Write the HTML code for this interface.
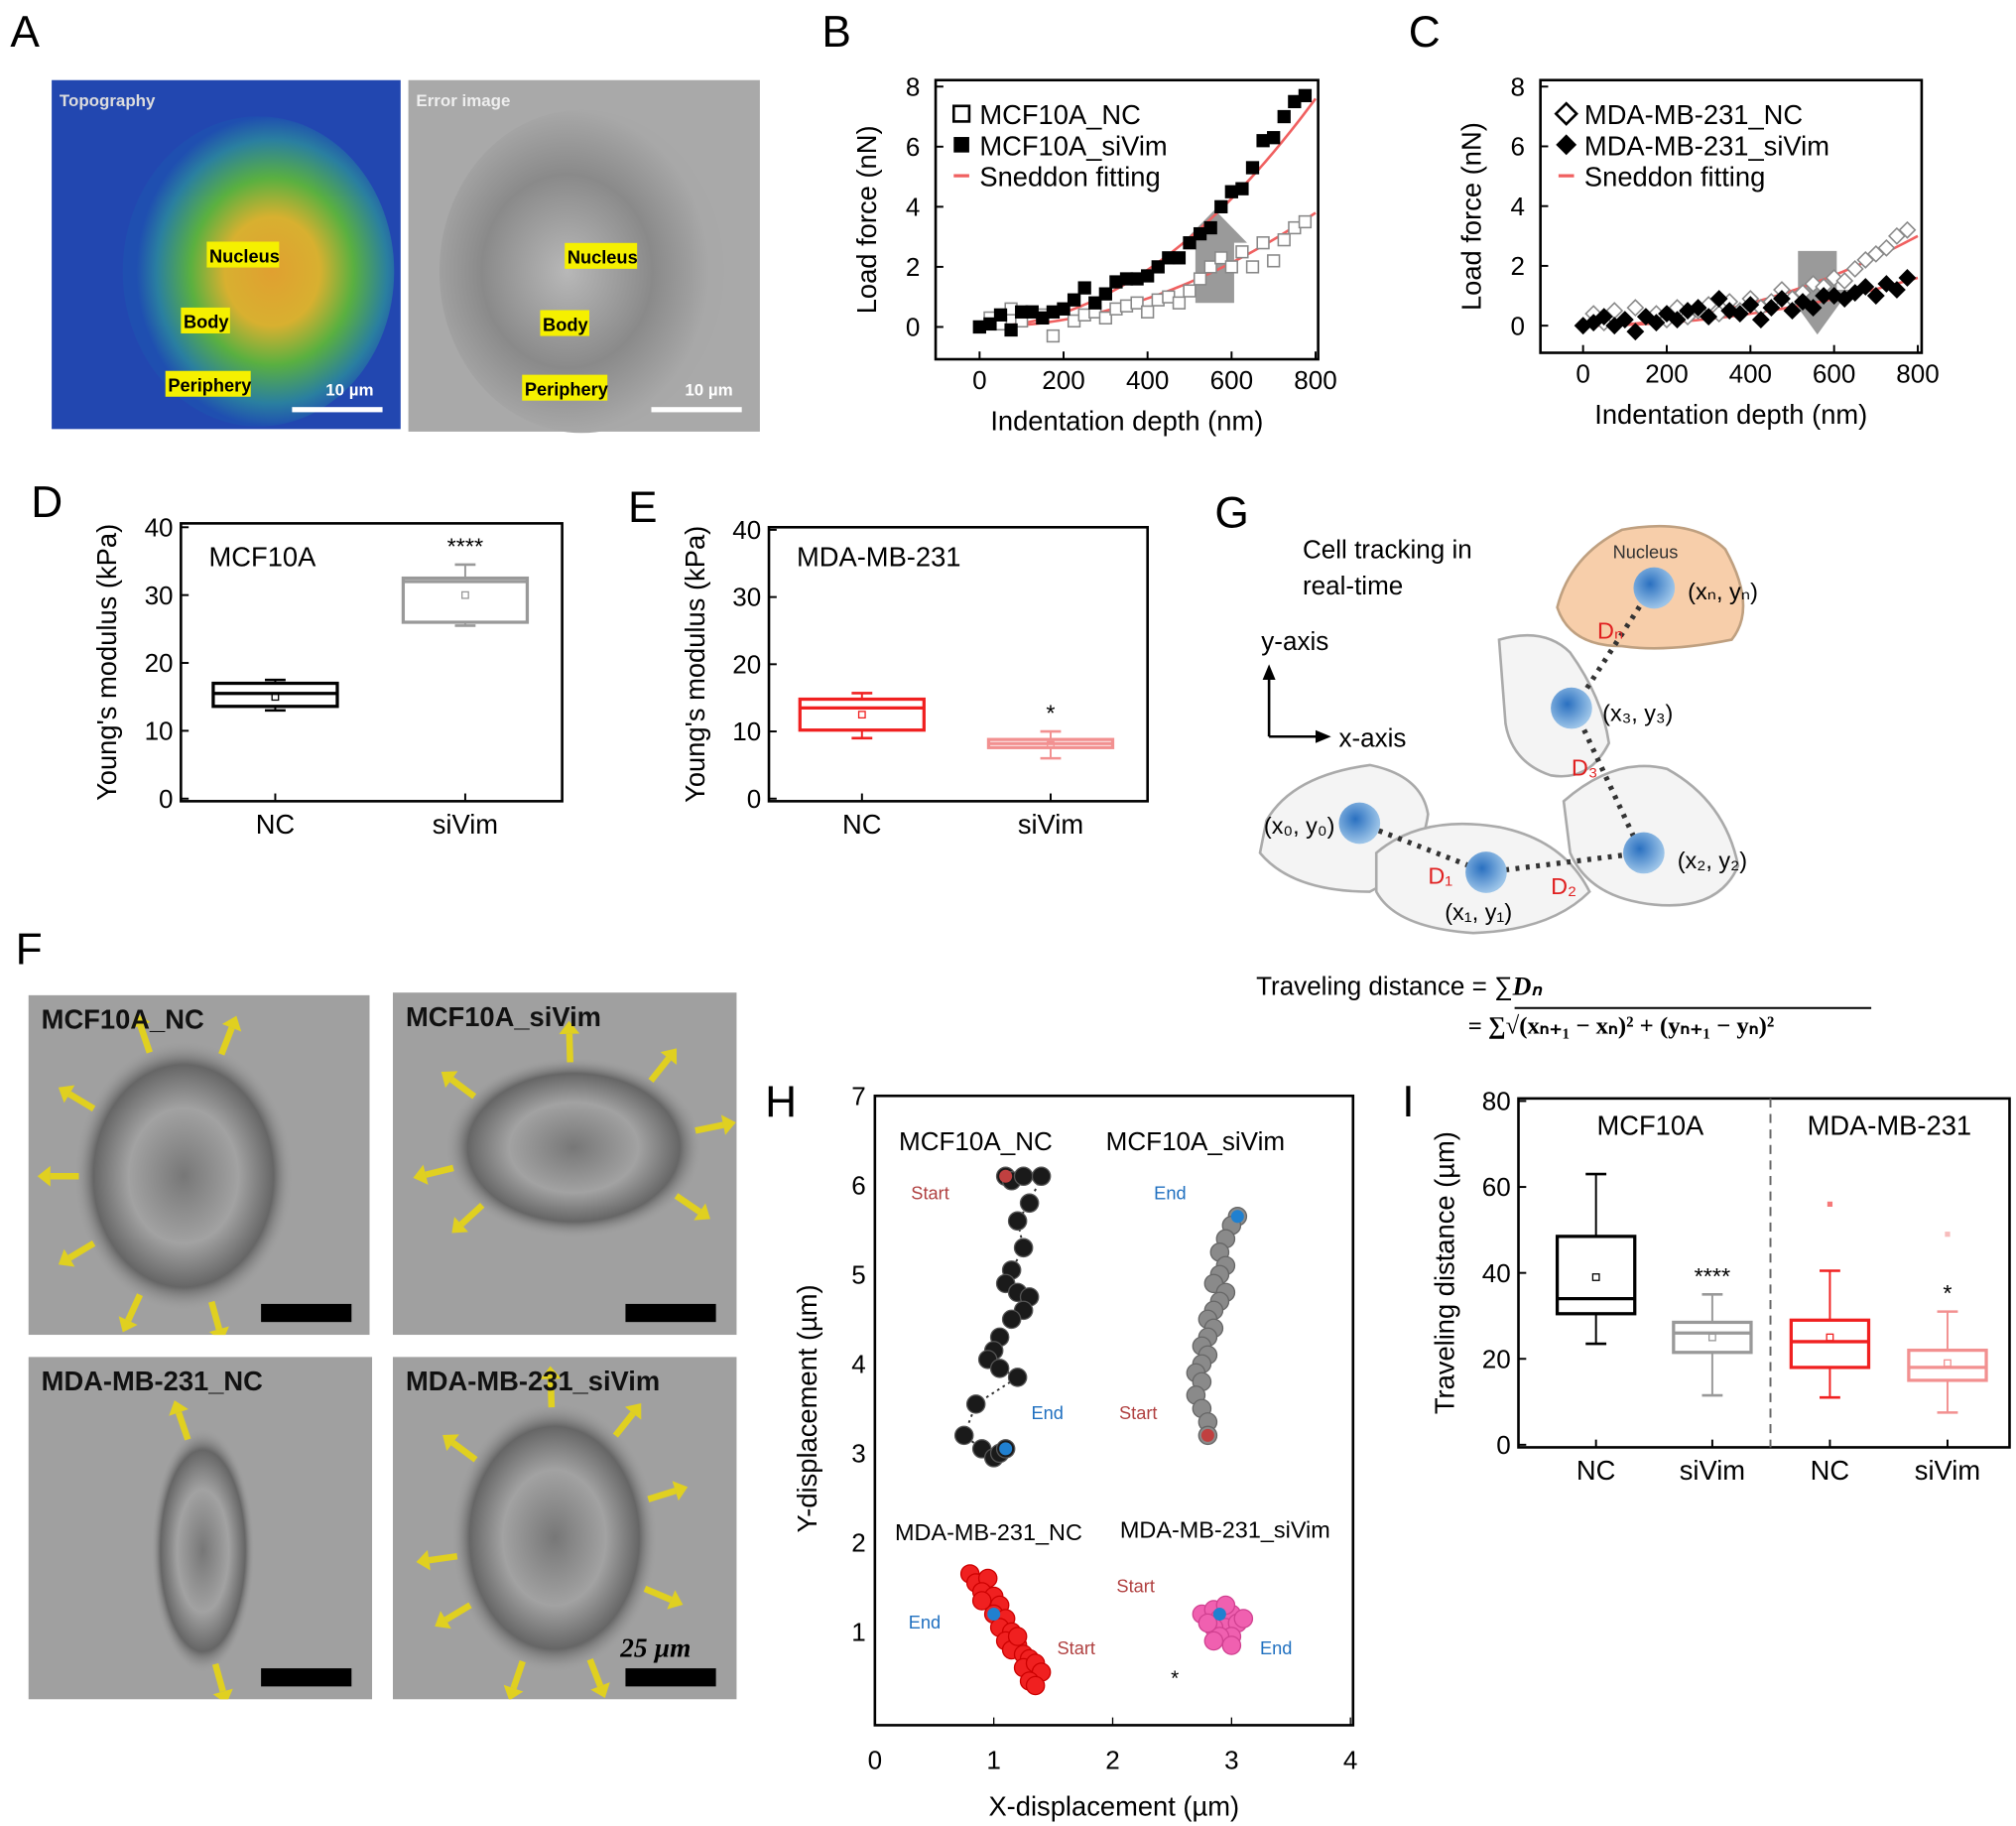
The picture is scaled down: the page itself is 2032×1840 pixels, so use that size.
<!DOCTYPE html>
<html><head><meta charset="utf-8"><style>
html,body{margin:0;padding:0;background:#fff;}
svg{display:block;font-family:"Liberation Sans",sans-serif;}
</style></head><body>
<svg id="fig" width="2032" height="1840" viewBox="0 0 1560 1413" preserveAspectRatio="none" xmlns="http://www.w3.org/2000/svg">
<defs>
<radialGradient id="topo" cx="0.55" cy="0.5" r="0.5">
<stop offset="0" stop-color="#e0a030"/><stop offset="0.35" stop-color="#d8b030"/><stop offset="0.6" stop-color="#5ab040"/><stop offset="0.85" stop-color="#2a7fa0"/><stop offset="1" stop-color="#1f4fb0"/></radialGradient>
<radialGradient id="err" cx="0.45" cy="0.5" r="0.5"><stop offset="0" stop-color="#b8b8b8"/><stop offset="0.6" stop-color="#8a8a8a"/><stop offset="1" stop-color="#a8a8a8"/></radialGradient>
<radialGradient id="cellg" cx="0.5" cy="0.5" r="0.5"><stop offset="0" stop-color="#777"/><stop offset="0.5" stop-color="#a2a2a2"/><stop offset="0.82" stop-color="#666"/><stop offset="1" stop-color="#a0a0a0" stop-opacity="0"/></radialGradient>
<radialGradient id="nuc" cx="0.4" cy="0.4" r="0.6"><stop offset="0" stop-color="#2a70c0"/><stop offset="1" stop-color="#9cc4e8"/></radialGradient>
<clipPath id="cf0"><rect x="22" y="770" width="264" height="263"/></clipPath>
<clipPath id="cf1"><rect x="304" y="768" width="266" height="265"/></clipPath>
<clipPath id="cf2"><rect x="22" y="1050" width="266" height="265"/></clipPath>
<clipPath id="cf3"><rect x="304" y="1050" width="266" height="265"/></clipPath>
</defs>
<g font-size="34" fill="#000">
<text x="8" y="36">A</text>
<text x="636" y="36">B</text>
<text x="1090" y="36">C</text>
<text x="24" y="400">D</text>
<text x="486" y="404">E</text>
<text x="940" y="408">G</text>
<text x="12" y="746">F</text>
<text x="592" y="864">H</text>
<text x="1085" y="864">I</text>
</g>
<g>
<rect x="40" y="62" width="270" height="270" fill="#2247b0"/>
<ellipse cx="200" cy="210" rx="105" ry="120" fill="url(#topo)"/>
<text x="46" y="82" font-size="13" fill="#ddd" font-weight="bold">Topography</text>
<rect x="160" y="187" width="56" height="20" fill="#f5f000"/><text x="162" y="203" font-size="14" font-weight="bold">Nucleus</text>
<rect x="140" y="238" width="38" height="20" fill="#f5f000"/><text x="142" y="254" font-size="14" font-weight="bold">Body</text>
<rect x="128" y="287" width="66" height="20" fill="#f5f000"/><text x="130" y="303" font-size="14" font-weight="bold">Periphery</text>
<text x="252" y="306" font-size="13" fill="#fff" font-weight="bold">10 µm</text><rect x="226" y="315" width="70" height="4" fill="#fff"/>
</g>
<g>
<rect x="316" y="62" width="272" height="272" fill="#a9a9a9"/>
<ellipse cx="450" cy="210" rx="110" ry="125" fill="url(#err)"/>
<text x="322" y="82" font-size="13" fill="#eee" font-weight="bold">Error image</text>
<rect x="437" y="188" width="56" height="20" fill="#f5f000"/><text x="439" y="204" font-size="14" font-weight="bold">Nucleus</text>
<rect x="418" y="240" width="38" height="20" fill="#f5f000"/><text x="420" y="256" font-size="14" font-weight="bold">Body</text>
<rect x="404" y="290" width="66" height="20" fill="#f5f000"/><text x="406" y="306" font-size="14" font-weight="bold">Periphery</text>
<text x="530" y="306" font-size="13" fill="#fff" font-weight="bold">10 µm</text><rect x="504" y="315" width="70" height="4" fill="#fff"/>
</g>
<g id="fimgs"></g>
<g>
<text x="1008" y="432" font-size="20">Cell tracking in</text>
<text x="1008" y="460" font-size="20">real-time</text>
<line x1="982" y1="570" x2="982" y2="524" stroke="#000" stroke-width="2"/><polygon points="977,526 987,526 982,514" fill="#000"/>
<line x1="982" y1="570" x2="1020" y2="570" stroke="#000" stroke-width="2"/><polygon points="1018,565 1018,575 1030,570" fill="#000"/>
<text x="976" y="503" font-size="20">y-axis</text><text x="1036" y="578" font-size="20">x-axis</text>
<path d="M980,635 Q1000,600 1060,592 Q1100,600 1105,630 Q1100,670 1060,690 Q1000,690 975,660Z" fill="#f4f4f4" stroke="#aaa" stroke-width="2"/>
<path d="M1065,660 Q1100,630 1160,640 Q1210,650 1230,690 Q1200,720 1140,722 Q1080,718 1065,690Z" fill="#f4f4f4" stroke="#aaa" stroke-width="2"/>
<path d="M1210,620 Q1250,585 1290,595 Q1335,620 1345,670 Q1330,705 1280,700 Q1230,695 1215,660Z" fill="#f4f4f4" stroke="#aaa" stroke-width="2"/>
<path d="M1160,495 Q1195,485 1215,505 Q1240,540 1245,575 Q1230,605 1200,600 Q1170,590 1165,560Z" fill="#f4f4f4" stroke="#aaa" stroke-width="2"/>
<path d="M1205,470 Q1215,430 1255,410 Q1310,400 1335,425 Q1360,470 1340,495 Q1290,505 1255,500 Q1215,500 1205,470Z" fill="#f7ceaa" stroke="#bfa080" stroke-width="2"/>
<text x="1248" y="432" font-size="14" fill="#333">Nucleus</text>
<polyline points="1052,637 1150,675 1270,660 1218,548 1278,455" fill="none" stroke="#333" stroke-width="4" stroke-dasharray="3,5"/>
<circle cx="1052" cy="637" r="16" fill="url(#nuc)"/><circle cx="1150" cy="675" r="16" fill="url(#nuc)"/><circle cx="1272" cy="660" r="16" fill="url(#nuc)"/><circle cx="1216" cy="548" r="16" fill="url(#nuc)"/><circle cx="1280" cy="455" r="16" fill="url(#nuc)"/>
<g font-size="18"><text x="978" y="645">(x₀, y₀)</text><text x="1118" y="712">(x₁, y₁)</text><text x="1298" y="672">(x₂, y₂)</text><text x="1240" y="558">(x₃, y₃)</text><text x="1306" y="464">(xₙ, yₙ)</text></g>
<g font-size="18" fill="#e02020"><text x="1105" y="684">D₁</text><text x="1200" y="692">D₂</text><text x="1216" y="600">D₃</text><text x="1236" y="494">Dₙ</text></g>
<text x="972" y="770" font-size="20">Traveling distance  = ∑<tspan font-weight="bold" font-style="italic" font-family="Liberation Serif">Dₙ</tspan></text>
<text x="1136" y="800" font-size="19" font-family="Liberation Serif" font-weight="bold">= ∑√(xₙ₊₁ − xₙ)² + (yₙ₊₁ − yₙ)²</text>
<line x1="1172" y1="780" x2="1448" y2="780" stroke="#000" stroke-width="1.5"/>
</g>
<g id="charts"></g>
</svg>
<script>
const bDepth = [0,25,50,75,100,125,150,175,200,225,250,275,300,325,350,375,400,425,450,475,500,525,550,575,600,625,650,675,700,725,750,775];
const bSiVim = [0,0.1,0.4,-0.1,0.5,0.5,0.3,0.5,0.6,0.9,1.3,0.8,1.1,1.5,1.6,1.6,1.7,2.0,2.3,2.3,2.8,3.1,3.3,4.0,4.5,4.6,5.3,6.2,6.3,7.0,7.5,7.7];
const bNC = [0,0.3,0.1,0.6,0.2,0.5,0.4,-0.3,0.6,0.2,0.4,0.5,0.3,0.6,0.7,0.8,0.5,0.9,1.0,0.8,1.2,1.6,2.0,2.3,2.0,2.5,2.0,2.8,2.2,2.9,3.3,3.5];
const cNC = [0,0.4,0.1,0.5,0.2,0.6,0.3,0.4,0.2,0.6,0.3,0.5,0.7,0.4,0.8,0.5,0.9,0.6,0.8,1.2,0.9,1.1,1.4,1.3,1.6,1.5,1.9,2.2,2.4,2.6,3.0,3.2];
const cSiVim = [0,0.1,0.3,0.0,0.2,-0.2,0.3,0.1,0.4,0.2,0.5,0.6,0.3,0.9,0.5,0.4,0.7,0.2,0.6,0.9,0.5,0.8,0.6,1.0,1.0,0.9,1.1,1.3,1.0,1.4,1.2,1.6];
const bFitK = [7.6,3.8];
const cFitK = [3.0,1.6];
const boxCats = ["NC","siVim"];
const dBoxes = [[13,13.6,15.5,17,17.5,15],[25.5,26,32,32.5,34.5,30]];
const eBoxes = [[9,10.2,13.5,14.8,15.7,12.5],[6,7.6,8.2,8.8,10,8]];
const iCats = ["NC","siVim","NC","siVim"];
const iBoxes = [[23.5,30.5,34,48.5,63,39],[11.5,21.5,26,28.5,35,25],[11,18,24,29,40.5,25],[7.5,15,18,22,31,19]];
const iOutliers = [null,null,56,49];
const hNCx = [1.1,1.15,1.25,1.4,1.3,1.2,1.25,1.15,1.1,1.2,1.3,1.25,1.15,1.05,1.0,0.95,1.05,1.2,0.85,0.75,0.9,1.0,1.05,1.1];
const hNCy = [6.1,6.05,6.1,6.1,5.8,5.6,5.3,5.05,4.9,4.8,4.75,4.6,4.5,4.3,4.15,4.05,3.95,3.85,3.55,3.2,3.05,2.95,3.0,3.05];
const hSiX = [3.05,3.0,2.95,2.9,2.95,2.9,2.85,2.95,2.9,2.85,2.8,2.85,2.8,2.75,2.8,2.75,2.7,2.75,2.7,2.75,2.8,2.8];
const hSiY = [5.65,5.55,5.4,5.25,5.1,5.0,4.9,4.8,4.7,4.6,4.5,4.4,4.3,4.2,4.1,4.0,3.9,3.8,3.65,3.5,3.35,3.2];
const hMNx = [0.8,0.85,0.95,0.9,1.0,1.05,1.0,1.1,1.05,1.15,1.1,1.2,1.15,1.25,1.3,1.25,1.35,1.4,1.3,1.35,1.2,0.9];
const hMNy = [1.65,1.55,1.6,1.45,1.4,1.3,1.2,1.15,1.05,1.0,0.9,0.85,0.8,0.75,0.7,0.6,0.65,0.55,0.45,0.4,0.95,1.35];
const hMSx = [2.75,2.85,2.9,3.0,2.95,2.85,3.05,3.0,2.9,2.8,2.95,3.1,3.0,2.85];
const hMSy = [1.2,1.25,1.15,1.2,1.05,1.05,1.1,0.95,0.95,1.1,1.3,1.15,0.85,0.9];

const NS="http://www.w3.org/2000/svg";
const root=document.getElementById('charts');
function mk(tag,attrs,parent){const e=document.createElementNS(NS,tag);for(const k in attrs)e.setAttribute(k,attrs[k]);(parent||root).appendChild(e);return e;}
function txt(x,y,s,size,parent,extra){const t=mk('text',Object.assign({x:x,y:y,'font-size':size},extra||{}),parent);t.textContent=s;return t;}
function lin(d0,d1,p0,p1){return v=>p0+(v-d0)/(d1-d0)*(p1-p0);}
function frame(g,x0,y0,x1,y1){mk('rect',{x:x0,y:y0,width:x1-x0,height:y1-y0,fill:'none',stroke:'#000','stroke-width':2},g);}

function forcePanel(name,x0,x1,y0,y1,xPix0,xPix1,yPix0,yPix8,open,filled,fit,labels,diamond,arrowUp,ax){
  const g=mk('g',{});
  
  
  const X=lin(0,800,xPix0,xPix1), Y=lin(0,8,yPix0,yPix8);
  frame(g,x0,y0,x1,y1);
  [0,2,4,6,8].forEach(v=>{mk('line',{x1:x0,x2:x0+6,y1:Y(v),y2:Y(v),stroke:'#000','stroke-width':1.5},g);txt(x0-12,Y(v)+7,String(v),20,g,{'text-anchor':'end'});});
  [0,200,400,600,800].forEach(v=>{mk('line',{x1:X(v),x2:X(v),y1:y1,y2:y1-6,stroke:'#000','stroke-width':1.5},g);txt(X(v),y1+23,String(v),20,g,{'text-anchor':'middle'});});
  const yt=txt(0,0,'Load force (nN)',21,g,{'text-anchor':'middle',transform:`translate(${x0-46},${(y0+y1)/2}) rotate(-90)`});
  
  txt((x0+x1)/2,y1+55,'Indentation depth (nm)',21,g,{'text-anchor':'middle'});
  const ax0=X(ax);
  if(arrowUp){mk('polygon',{points:`${ax0-15},${Y(0.8)} ${ax0+15},${Y(0.8)} ${ax0+15},${Y(2.8)} ${ax0+25},${Y(2.8)} ${ax0},${Y(3.9)} ${ax0-25},${Y(2.8)} ${ax0-15},${Y(2.8)}`,fill:'#9a9a9a'},g);}
  else{mk('polygon',{points:`${ax0-15},${Y(2.5)} ${ax0+15},${Y(2.5)} ${ax0+15},${Y(1.2)} ${ax0+25},${Y(1.2)} ${ax0},${Y(-0.3)} ${ax0-25},${Y(1.2)} ${ax0-15},${Y(1.2)}`,fill:'#9a9a9a'},g);}
  fit.forEach((k,i)=>{let d='';for(let v=0;v<=800;v+=10){d+=(v?'L':'M')+X(v)+','+Y(k*(v/800)*(v/800));}
    const p=mk('path',{d:d,fill:'none',stroke:'#f06060','stroke-width':2},g);});
  function marker(x,y,fillc){if(diamond){return mk('polygon',{points:`${x},${y-6} ${x+6},${y} ${x},${y+6} ${x-6},${y}`,fill:fillc,stroke:fillc==='#000'?'#000':'#888','stroke-width':1.2},g);}return mk('rect',{x:x-4.5,y:y-4.5,width:9,height:9,fill:fillc,stroke:fillc==='#000'?'#000':'#888','stroke-width':1.2},g);}
  bDepth.forEach((d,i)=>{const m=marker(X(d),Y(open[i]),'#fff');});
  bDepth.forEach((d,i)=>{const m=marker(X(d),Y(filled[i]),'#000');});
  const lg=mk('g',{},g);
  const lx=x0+20;
  if(diamond){mk('polygon',{points:`${lx},${80} ${lx+8},${88} ${lx},${96} ${lx-8},${88}`,fill:'#fff',stroke:'#000','stroke-width':2},lg);mk('polygon',{points:`${lx},${104} ${lx+8},${112} ${lx},${120} ${lx-8},${112}`,fill:'#000'},lg);}
  else{mk('rect',{x:lx-6,y:82,width:12,height:12,fill:'#fff',stroke:'#000','stroke-width':2},lg);mk('rect',{x:lx-6,y:106,width:12,height:12,fill:'#000'},lg);}
  mk('line',{x1:lx-6,x2:lx+6,y1:136,y2:136,stroke:'#f06060','stroke-width':2.5},lg);
  labels.forEach((s,i)=>txt(lx+14,96+i*24,s,21,lg));
}
forcePanel('panel-b-load-force',724,1020,62,278,758,1018,253,67,bNC,bSiVim,bFitK,['MCF10A_NC','MCF10A_siVim','Sneddon fitting'],false,true,560);
forcePanel('panel-c-load-force',1192,1487,62,273,1225,1484,252,67,cNC,cSiVim,cFitK,['MDA-MB-231_NC','MDA-MB-231_siVim','Sneddon fitting'],true,false,560);

function boxPanel(name,x0,x1,y0,y1,ymax,yPix0,yPixMax,ticks,cats,catX,boxes,colors,title,titleX,titleY,stars,ytitle,outliers,bw){
  const g=mk('g',{});
  
  
  const Y=lin(0,ymax,yPix0,yPixMax);
  frame(g,x0,y0,x1,y1);
  ticks.forEach(v=>{mk('line',{x1:x0,x2:x0+6,y1:Y(v),y2:Y(v),stroke:'#000','stroke-width':1.5},g);txt(x0-6,Y(v)+7,String(v),20,g,{'text-anchor':'end'});});
  cats.forEach((c,i)=>{mk('line',{x1:catX[i],x2:catX[i],y1:y1,y2:y1-6,stroke:'#000','stroke-width':1.5},g);txt(catX[i],y1+25,c,21,g,{'text-anchor':'middle'});});
  const yt=txt(0,0,ytitle,21,g,{'text-anchor':'middle',transform:`translate(${x0-50},${(y0+y1)/2}) rotate(-90)`});
  
  if(title)title.forEach((t,i)=>txt(titleX[i],titleY,t,21,g,{'text-anchor':'middle'}));
  boxes.forEach((b,i)=>{
    const cx=catX[i],c=colors[i],h=bw/2;
    const bg=mk('g',{},g);
    mk('line',{x1:cx,x2:cx,y1:Y(b[0]),y2:Y(b[4]),stroke:c,'stroke-width':1.5},bg);
    mk('line',{x1:cx-8,x2:cx+8,y1:Y(b[0]),y2:Y(b[0]),stroke:c,'stroke-width':2},bg);
    mk('line',{x1:cx-8,x2:cx+8,y1:Y(b[4]),y2:Y(b[4]),stroke:c,'stroke-width':2},bg);
    mk('rect',{x:cx-h,y:Y(b[3]),width:bw,height:Y(b[1])-Y(b[3]),fill:'#fff',stroke:c,'stroke-width':2.5},bg);
    mk('line',{x1:cx-h,x2:cx+h,y1:Y(b[2]),y2:Y(b[2]),stroke:c,'stroke-width':2.5},bg);
    mk('rect',{x:cx-2.5,y:Y(b[5])-2.5,width:5,height:5,fill:'none',stroke:c,'stroke-width':1},bg);
    if(outliers&&outliers[i]!=null)mk('rect',{x:cx-2,y:Y(outliers[i])-2,width:4,height:4,fill:c,opacity:0.6},bg);
    if(stars[i])txt(cx,Y(b[4])-8,stars[i],18,bg,{'text-anchor':'middle'});
  });
  return {g:g,Y:Y};
}
boxPanel('panel-d-youngs-modulus',140,435,405,620,40,618,408,[0,10,20,30,40],boxCats,[213,360],dBoxes,['#000','#999'],['MCF10A'],[203],438,['','****'],"Young's modulus (kPa)",null,96);
boxPanel('panel-e-youngs-modulus',595,888,408,620,40,618,410,[0,10,20,30,40],boxCats,[667,813],eBoxes,['#f02020','#f29090'],['MDA-MB-231'],[680],438,['','*'],"Young's modulus (kPa)",null,96);
const ip=boxPanel('panel-i-traveling-distance',1175,1555,850,1120,80,1118,852,[0,20,40,60,80],iCats,[1235,1325,1416,1507],iBoxes,['#000','#999','#f02020','#f29090'],['MCF10A','MDA-MB-231'],[1277,1462],878,['','****','','*'],'Traveling distance (µm)',iOutliers,60);
mk('line',{x1:1370,x2:1370,y1:850,y2:1120,stroke:'#666','stroke-width':1.5,'stroke-dasharray':'7,5'},ip.g);

(function(){
  const g=mk('g',{});
  
  
  const X=lin(0,4,677,1045),Y=lin(0,7,1332,848);
  frame(g,677,848,1047,1335);
  [1,2,3,4,5,6,7].forEach(v=>{txt(670,Y(v)+7,String(v),20,g,{'text-anchor':'end'});});
  [0,1,2,3,4].forEach(v=>{mk('line',{x1:X(v),x2:X(v),y1:1335,y2:1329,stroke:'#000'},g);txt(X(v),1369,String(v),20,g,{'text-anchor':'middle'});});
  txt(0,0,'Y-displacement (µm)',21,g,{'text-anchor':'middle',transform:'translate(632,1090) rotate(-90)'});
  txt(862,1405,'X-displacement (µm)',21,g,{'text-anchor':'middle'});
  txt(755,890,'MCF10A_NC',20,g,{'text-anchor':'middle'});
  txt(925,890,'MCF10A_siVim',20,g,{'text-anchor':'middle'});
  txt(765,1192,'MDA-MB-231_NC',18,g,{'text-anchor':'middle'});
  txt(948,1190,'MDA-MB-231_siVim',18,g,{'text-anchor':'middle'});
  function traj(xs,ys,fill,stroke,name,r,dotted){
    if(dotted){let d='';xs.forEach((x,i)=>d+=(i?'L':'M')+X(x)+','+Y(ys[i]));mk('path',{d:d,fill:'none',stroke:'#333','stroke-width':1.5,'stroke-dasharray':'2,3'},g);}
    xs.forEach((x,i)=>{const c=mk('circle',{cx:X(x),cy:Y(ys[i]),r:r,fill:fill,stroke:stroke,'stroke-width':1},g);});
  }
  traj(hNCx,hNCy,'#1a1a1a','#555','mcf10a-nc-point',7,true);
  traj(hSiX,hSiY,'#8a8a8a','#666','mcf10a-sivim-point',7,false);
  traj(hMNx,hMNy,'#f02020','#c00','mda-nc-point',7,false);
  traj(hMSx,hMSy,'#f060b0','#d04090','mda-sivim-point',7,false);
  [[1.1,6.1,'#c04040'],[1.1,3.05,'#2080d0'],[3.05,5.65,'#2080d0'],[2.8,3.2,'#c04040'],[1.0,1.2,'#2080d0'],[2.9,1.2,'#2080d0']].forEach(p=>mk('circle',{cx:X(p[0]),cy:Y(p[1]),r:5,fill:p[2]},g));
  const lab=[['Start',705,928,'#b04040'],['End',798,1098,'#2070c0'],['End',893,928,'#2070c0'],['Start',866,1098,'#b04040'],['End',703,1260,'#2070c0'],['Start',818,1280,'#b04040'],['Start',864,1232,'#b04040'],['End',975,1280,'#2070c0']];
  lab.forEach(l=>{txt(l[1],l[2],l[0],14,g,{fill:l[3]});});
  txt(906,1304,'*',16,g);
})();

(function(){
  const g=document.getElementById('fimgs');
  const imgs=[[22,770,264,263,'MCF10A_NC'],[304,768,266,265,'MCF10A_siVim'],[22,1050,266,265,'MDA-MB-231_NC'],[304,1050,266,265,'MDA-MB-231_siVim']];
  const cells=[[120,140,85,105],[140,120,100,70],[135,150,40,95],[125,140,80,105]];
  const angs=[[-1.9,-1.2,-2.6,3.14,2.6,2.0,1.3],[-2.5,-1.6,-0.9,-0.2,0.6,2.9,2.4],[-1.9,1.3],[-1.6,-0.9,-2.5,-0.3,0.4,1.2,1.9,2.6,3.0]];
  imgs.forEach((m,i)=>{
    const sg=mk('g',{'clip-path':'url(#cf'+i+')'},g);
    mk('rect',{x:m[0],y:m[1],width:m[2],height:m[3],fill:'#a0a0a0'},sg);
    const c=cells[i];
    mk('ellipse',{cx:m[0]+c[0],cy:m[1]+c[1],rx:c[2],ry:c[3],fill:'url(#cellg)'},sg);
    angs[i].forEach(a=>{const bx=m[0]+c[0]+Math.cos(a)*(c[2]-4),by=m[1]+c[1]+Math.sin(a)*(c[3]-4);
      const ex=bx+Math.cos(a)*22,ey=by+Math.sin(a)*22;
      mk('line',{x1:bx,y1:by,x2:ex,y2:ey,stroke:'#e0d020','stroke-width':5},sg);
      const px=-Math.sin(a),py=Math.cos(a);
      mk('polygon',{points:`${ex+Math.cos(a)*10},${ey+Math.sin(a)*10} ${ex+px*8},${ey+py*8} ${ex-px*8},${ey-py*8}`,fill:'#e0d020'},sg);});
    txt(m[0]+10,m[1]+26,m[4],21,sg,{'font-weight':'bold','fill':'#111'});
    mk('rect',{x:m[0]+180,y:m[1]+m[3]-24,width:70,height:14,fill:'#000'},sg);
  });
  txt(480,1282,'25 µm',21,g,{'font-weight':'bold','font-style':'italic','font-family':'Liberation Serif'});
})();
</script>
</body></html>
